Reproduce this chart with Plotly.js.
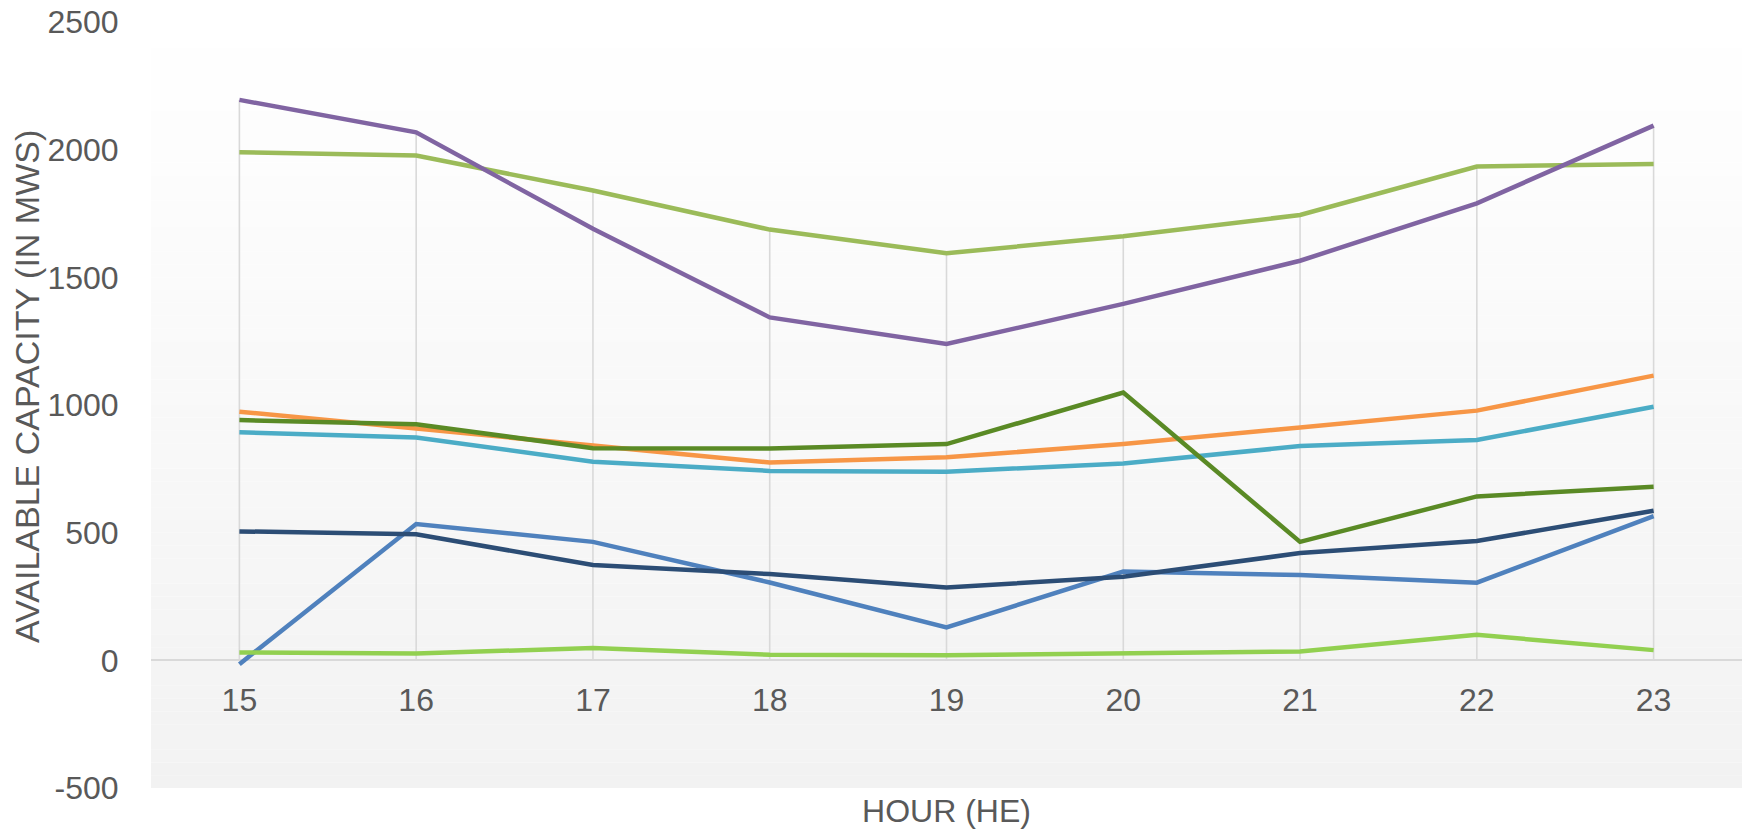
<!DOCTYPE html>
<html>
<head>
<meta charset="utf-8">
<script src="https://cdn.plot.ly/plotly-3.0.1.min.js"></script>
<style>
  html, body { margin: 0; padding: 0; background: #ffffff; }
  #chart { width: 1742px; height: 829px; }
</style>
</head>
<body>
<div id="chart"></div>
<script>
// ---- Data ----
const hours = [15, 16, 17, 18, 19, 20, 21, 22, 23];

const seriesBlue      = [-15, 534, 464, 305, 129, 348, 334, 304, 565];
const seriesOliveGreen= [1990, 1977, 1840, 1687, 1594, 1661, 1744, 1934, 1944];
const seriesPurple    = [2195, 2068, 1690, 1343, 1239, 1396, 1565, 1790, 2094];
const seriesTeal      = [893, 873, 778, 742, 739, 771, 839, 863, 993];
const seriesOrange    = [974, 908, 843, 775, 795, 847, 912, 978, 1115];
const seriesNavy      = [505, 494, 373, 338, 285, 327, 420, 467, 586];
const seriesDarkGreen = [941, 925, 831, 830, 847, 1049, 464, 642, 680];
const seriesLightGreen= [31, 27, 48, 22, 20, 27, 35, 100, 40];

const seriesNames = ["Series 1", "Series 2", "Series 3", "Series 4",
                     "Series 5", "Series 6", "Series 7", "Series 8"];

const yTickValues = [-500, 0, 500, 1000, 1500, 2000, 2500];
const xTitle = "HOUR (HE)";
const yTitle = "AVAILABLE CAPACITY (IN MWS)";

// ---- Styles ----
const allSeries = [seriesBlue, seriesOliveGreen, seriesPurple, seriesTeal,
                   seriesOrange, seriesNavy, seriesDarkGreen, seriesLightGreen];
const colors = ["#4f81bd", "#9bbb59", "#8064a2", "#4bacc6",
                "#f79646", "#2c4d75", "#5a8a25", "#92d050"];

const yRange = [-500, 2500];
const xRange = [14.5, 23.5];
const textColor = "#595959";
const fontFamily = "Arial, 'Liberation Sans', sans-serif";

// Drop lines: from the highest value of each hour down to the category axis (0)
const dropX = [], dropY = [];
hours.forEach((h, i) => {
  const mx = Math.max(...allSeries.map(s => s[i]));
  dropX.push(h, h, null);
  dropY.push(mx, 0, null);
});

const traces = [{
  x: dropX, y: dropY, type: "scatter", mode: "lines",
  line: { color: "#d9d9d9", width: 1.6 },
  hoverinfo: "skip", showlegend: false
}];

allSeries.forEach((s, k) => {
  traces.push({
    x: hours, y: s, name: seriesNames[k], type: "scatter", mode: "lines",
    line: { color: colors[k], width: 4.5, shape: "linear" },
    showlegend: false
  });
});

// Vertical gradient for the plot area (white at top -> #f2f2f2 at bottom)
const shapes = [];
const bands = 60;
for (let b = 0; b < bands; b++) {
  const t = (b + 0.5) / bands; // 0 at bottom, 1 at top
  const v = Math.round(242 + (255 - 242) * t);
  shapes.push({
    type: "rect", xref: "paper", yref: "paper", layer: "below",
    x0: 0, x1: 1, y0: b / bands, y1: (b + 1) / bands,
    fillcolor: `rgb(${v},${v},${v})`, line: { width: 0 }
  });
}

const layout = {
  width: 1742, height: 829,
  margin: { l: 151, r: 0, t: 22, b: 41, pad: 0 },
  paper_bgcolor: "#ffffff",
  plot_bgcolor: "#ffffff",
  font: { family: fontFamily, color: textColor, size: 32 },
  showlegend: false,
  shapes: shapes,
  annotations: [{
    text: yTitle, textangle: -90,
    xref: "paper", yref: "paper", x: 0, y: 0.5235,
    xanchor: "center", yanchor: "middle", xshift: -124,
    showarrow: false,
    font: { size: 34, color: textColor, family: fontFamily }
  }],
  xaxis: {
    range: xRange,
    tickvals: hours,
    ticktext: hours.map(String),
    showgrid: false, zeroline: false, showline: false,
    ticks: "outside", ticklen: 11, tickcolor: "rgba(0,0,0,0)",
    tickfont: { size: 32, color: textColor, family: fontFamily },
    anchor: "free",
    position: (0 - yRange[0]) / (yRange[1] - yRange[0]),
    automargin: false,
    title: { text: xTitle, font: { size: 32, color: textColor, family: fontFamily }, standoff: 95 }
  },
  yaxis: {
    range: yRange,
    tickvals: yTickValues,
    ticktext: yTickValues.map(String),
    showgrid: false,
    zeroline: true, zerolinecolor: "#d9d9d9", zerolinewidth: 2,
    showline: false,
    ticks: "outside", ticklen: 25, tickcolor: "rgba(0,0,0,0)",
    tickfont: { size: 32, color: textColor, family: fontFamily },
    automargin: false
  }
};

Plotly.newPlot("chart", traces, layout, { staticPlot: true, displayModeBar: false });
</script>
</body>
</html>
